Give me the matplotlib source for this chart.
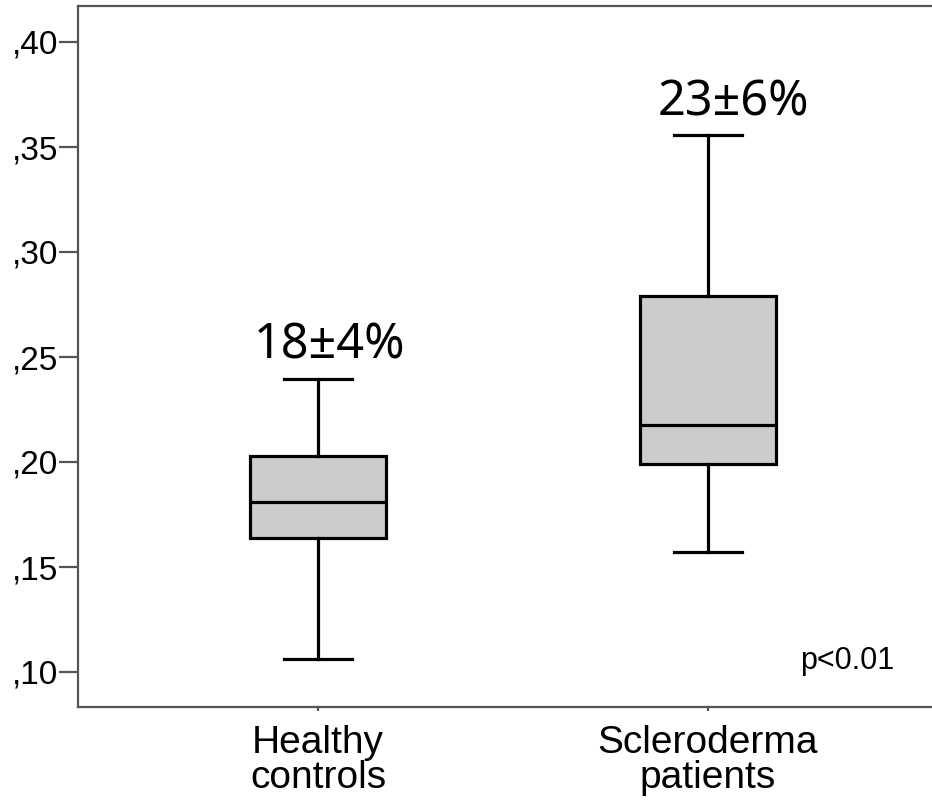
import matplotlib
matplotlib.use("Agg")
import matplotlib.pyplot as plt

groups = ["Healthy\ncontrols", "Scleroderma\npatients"]
whislo = [0.106, 0.157]
q1 = [0.164, 0.199]
med = [0.181, 0.2175]
q3 = [0.203, 0.279]
whishi = [0.2395, 0.3555]
labels = ["18±4%", "23±6%"]
yticks = [0.10, 0.15, 0.20, 0.25, 0.30, 0.35, 0.40]
ytick_labels = [",10", ",15", ",20", ",25", ",30", ",35", ",40"]

plt.rcParams['font.family'] = ['Liberation Sans', 'DejaVu Sans']

fig = plt.figure(figsize=(9.32, 8.01), dpi=100)
ax = fig.add_axes([78/932, 94/801, 870/932, 701/801])

stats = []
for i in range(len(groups)):
    stats.append(dict(whislo=whislo[i], q1=q1[i], med=med[i], q3=q3[i],
                      whishi=whishi[i], fliers=[], label=groups[i]))

lw = 2.3
ax.bxp(stats, positions=[1, 2], widths=0.35, patch_artist=True, showfliers=False,
       boxprops=dict(facecolor='#cccccc', edgecolor='black', linewidth=lw),
       medianprops=dict(color='black', linewidth=lw),
       whiskerprops=dict(color='black', linewidth=lw),
       capprops=dict(color='black', linewidth=lw))

ax.set_xlim(1 - 240/390, 2 + 240/390)
ax.set_ylim(0.10 - 35/2100, 0.40 + 36/2100)
ax.set_yticks(yticks)
ax.set_yticklabels(ytick_labels, fontsize=24)
ax.set_xticks([1, 2])
ax.set_xticklabels(groups, fontsize=28, linespacing=0.98)

for s in ax.spines.values():
    s.set_color('#555555')
    s.set_linewidth(1.6)
ax.spines['right'].set_visible(False)
ax.tick_params(axis='y', length=14, width=1.6, color='#555555', pad=0)
ax.tick_params(axis='x', length=3, width=1.6, color='#555555', pad=10)

# group annotations
ax.text(1.03, 0.2495, labels[0], fontsize=35, family='Noto Sans', ha='center', va='baseline')
ax.text(2.064, 0.3652, labels[1], fontsize=35, family='Noto Sans', ha='center', va='baseline')
ax.text(2.356, 0.1015, "p<0.01", fontsize=22, ha='center', va='baseline')

fig.savefig("out.png", dpi=100)
